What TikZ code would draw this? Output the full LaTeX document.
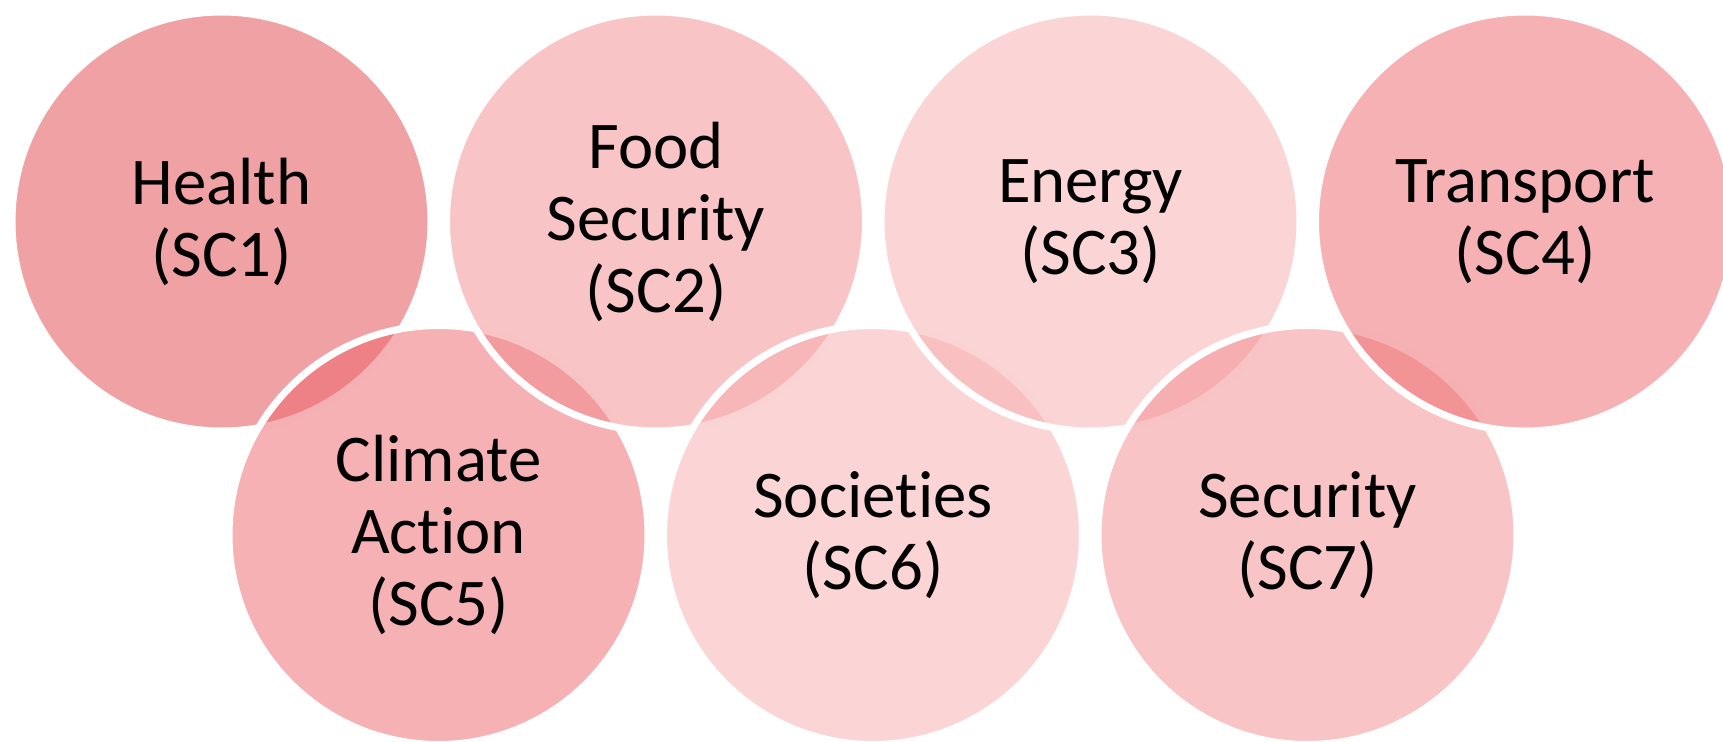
\documentclass[tikz,border=0pt]{standalone}
\usepackage{fontspec}
\setmainfont{Carlito}[Ligatures={NoCommon,NoRare,NoContextual}]
\usepackage{tikz}
\usetikzlibrary{positioning}
\definecolor{healthc}{RGB}{223,67,73}
\definecolor{foodc}{RGB}{241,137,139}
\definecolor{energyc}{RGB}{247,171,173}
\definecolor{transportc}{RGB}{237,99,105}
\tikzset{
  mycircle/.style={
    circle,
    draw=white,
    line width=2pt,
    fill opacity=0.5,
    draw opacity=1,
    text opacity=1,
    minimum size=4.19cm,
    inner sep=0pt,
    outer sep=0pt,
    align=center,
    font=\fontsize{19pt}{20.5pt}\selectfont
  }
}

\begin{document}
\begin{tikzpicture}[on grid]

\useasboundingbox (0,0) rectangle (17.23,7.41);

% Top row and bottom row, drawn in zig-zag order
\node [mycircle,
    fill=healthc
] at (2.215,5.195) (health) {Health\\(SC1)};

\node [mycircle,
    fill=transportc,
    below right=3.135cm and 2.17cm of health
]  (climate) {Climate\\Action\\(SC5)};

\node [mycircle,
    fill=foodc,
    right=4.345cm of health
]  (food) {Food\\Security\\(SC2)};

\node [mycircle,
    fill=energyc,
    right=4.345cm of climate
]  (societies) {Societies\\(SC6)};

\node [mycircle,
    fill=energyc,
    right=4.345cm of food
]  (energy) {Energy\\(SC3)};

\node [mycircle,
    fill=foodc,
    right=4.345cm of societies
]  (security) {Security\\(SC7)};

\node [mycircle,
    fill=transportc,
    right=4.345cm of energy
]  (transport) {Transport\\(SC4)};

\end{tikzpicture}
\end{document}
